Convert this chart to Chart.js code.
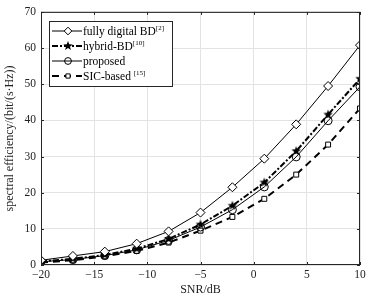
<!DOCTYPE html>
<html><head><meta charset="utf-8">
<script src="https://cdn.jsdelivr.net/npm/chart.js@4/dist/chart.umd.min.js"></script>
<style>html,body{margin:0;padding:0;background:#fff}#wrap{width:376px;height:298px}</style>
</head><body><div id="wrap"><canvas id="c" width="376" height="298"></canvas></div>
<script>
const snr = [-20,-17,-14,-11,-8,-5,-2,1,4,7,10];
const fullyDigital = [1.3,2.5,3.7,5.9,9.3,14.5,21.5,29.4,38.9,49.5,60.8];
const hybridBD = [1.0,1.7,2.8,4.5,7.2,11.2,16.4,22.8,31.5,41.6,51.5];
const proposed = [0.9,1.5,2.6,4.2,6.8,10.5,15.3,21.6,29.9,39.9,49.3];
const sicBased = [0.7,1.3,2.4,3.9,6.2,9.5,13.3,18.3,25.0,33.3,43.3];
const legendNames = [["fully digital BD","[2]"],["hybrid-BD","[10]"],["proposed",""],["SIC-based ","[15]"]];
const xTitle = "SNR/dB";
const yTitle = "spectral efficiency/(bit/(s·Hz))";
const FONT = "'Liberation Serif','Times New Roman',serif";

function starCanvas(r){
  const s = Math.ceil(r*2+2), c = document.createElement('canvas');
  c.width = s; c.height = s;
  const g = c.getContext('2d'); g.fillStyle = '#000'; g.beginPath();
  for (let i=0;i<10;i++){
    const rr = i%2===0 ? r : r*0.42, a = -Math.PI/2 + i*Math.PI/5;
    const px = s/2 + rr*Math.cos(a), py = s/2 + rr*Math.sin(a);
    i===0 ? g.moveTo(px,py) : g.lineTo(px,py);
  }
  g.closePath(); g.fill();
  return c;
}
const star = starCanvas(5);
const pts = arr => snr.map((x,i)=>({x:x,y:arr[i]}));

const series = [
  {label:legendNames[0][0], data:pts(fullyDigital), borderColor:'#000', borderWidth:1, pointStyle:'rectRot', pointRadius:4.5, pointBackgroundColor:'#fff', pointBorderColor:'#000', pointBorderWidth:1, borderDash:[]},
  {label:legendNames[1][0], data:pts(hybridBD), borderColor:'#000', borderWidth:2, pointStyle:star, pointRadius:5, borderDash:[6,2,2,2]},
  {label:legendNames[2][0], data:pts(proposed), borderColor:'#000', borderWidth:1, pointStyle:'circle', pointRadius:4, pointBackgroundColor:'rgba(255,255,255,0)', pointBorderColor:'#000', pointBorderWidth:1, borderDash:[]},
  {label:legendNames[3][0], data:pts(sicBased), borderColor:'#000', borderWidth:2, pointStyle:'rect', pointRadius:3.5, pointBackgroundColor:'#fff', pointBorderColor:'#000', pointBorderWidth:1, borderDash:[7,5]}
];
series.forEach(s=>{s.tension=0; s.fill=false; s.backgroundColor='#fff';});

const frame = {
  id:'frame',
  afterDraw(chart){
    const ctx = chart.ctx, a = chart.chartArea;
    ctx.save();
    ctx.strokeStyle = '#262626'; ctx.lineWidth = 1;
    ctx.strokeRect(a.left+0.5, a.top+0.5, a.right-a.left-1, a.bottom-a.top-1);
    const xs = chart.scales.x, ys = chart.scales.y;
    ctx.beginPath();
    for (let v=-20; v<=10; v+=5){ const px = Math.round(xs.getPixelForValue(v))+0.5;
      ctx.moveTo(px,a.bottom); ctx.lineTo(px,a.bottom-3); ctx.moveTo(px,a.top); ctx.lineTo(px,a.top+3); }
    for (let v=0; v<=70; v+=10){ const py = Math.round(ys.getPixelForValue(v))+0.5;
      ctx.moveTo(a.left,py); ctx.lineTo(a.left+3,py); ctx.moveTo(a.right,py); ctx.lineTo(a.right-3,py); }
    ctx.stroke();
    // legend
    const lx = 49, ly = 21, lw = 123, lh = 65;
    ctx.fillStyle = '#fff'; ctx.fillRect(lx, ly, lw, lh);
    ctx.strokeStyle = '#262626'; ctx.strokeRect(lx+0.5, ly+0.5, lw, lh);
    chart.data.datasets.forEach((ds,i)=>{
      const y = ly + 10 + i*15;
      ctx.save();
      ctx.strokeStyle = ds.borderColor; ctx.lineWidth = ds.borderWidth;
      ctx.setLineDash(ds.borderDash||[]);
      ctx.beginPath(); ctx.moveTo(lx+3, y); ctx.lineTo(lx+33, y); ctx.stroke();
      ctx.setLineDash([]);
      ctx.lineWidth = 1;
      ctx.fillStyle = ds.pointBackgroundColor || '#fff'; ctx.strokeStyle = '#000';
      Chart.helpers.drawPoint(ctx, {pointStyle: ds.pointStyle, radius: ds.pointRadius*0.85, borderWidth:1, rotation:0}, lx+19, y);
      ctx.fillStyle = '#000'; ctx.textBaseline = 'middle'; ctx.textAlign = 'left';
      ctx.font = "11.5px " + FONT;
      ctx.fillText(legendNames[i][0], lx+34, y+1);
      const w = ctx.measureText(legendNames[i][0]).width;
      if (legendNames[i][1]) { ctx.font = "7px " + FONT; ctx.fillText(legendNames[i][1], lx+34+w, y-3); }
      ctx.restore();
    });
    ctx.restore();
  }
};

new Chart(document.getElementById('c'), {
  type:'line',
  data:{datasets:series},
  options:{
    responsive:false, animation:false, devicePixelRatio:1,
    layout:{padding:{left:3, right:16, top:6, bottom:1}},
    plugins:{legend:{display:false}, tooltip:{enabled:false}},
    scales:{
      x:{type:'linear', min:-20, max:10,
        ticks:{stepSize:5, color:'#222', font:{family:FONT, size:11.5}, padding:3, callback:v=>v<0?'\u2212'+Math.abs(v):String(v)},
        grid:{color:'#e3e3e3', drawTicks:false}, border:{display:false},
        title:{display:true, text:xTitle, color:'#222', font:{family:FONT, size:12}, padding:{top:0,bottom:0}},
        afterFit(s){ s.height = 32; }
      },
      y:{min:0, max:70,
        ticks:{stepSize:10, color:'#222', font:{family:FONT, size:11.5}, padding:5},
        grid:{color:'#e3e3e3', drawTicks:false}, border:{display:false},
        title:{display:true, text:yTitle, color:'#222', font:{family:FONT, size:12}, padding:{top:0,bottom:2}},
        afterFit(s){ s.width = 38; }
      }
    }
  },
  plugins:[frame]
});
</script></body></html>
